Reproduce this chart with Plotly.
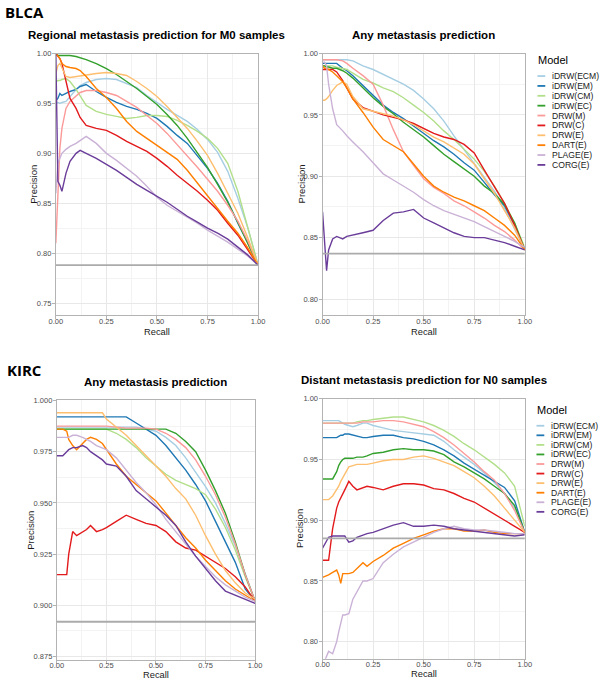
import plotly.graph_objects as go

# ---------------- data ----------------
MODELS = ["iDRW(ECM)", "iDRW(EM)", "iDRW(CM)", "iDRW(EC)", "DRW(M)", "DRW(C)",
          "DRW(E)", "DART(E)", "PLAGE(E)", "CORG(E)"]
COLORS = ["#A6CEE3", "#1F78B4", "#B2DF8A", "#33A02C", "#FB9A99", "#E31A1C",
          "#FDBF6F", "#FF7F00", "#CAB2D6", "#6A3D9A"]

PANEL_TITLES = ["Regional metastasis prediction for M0 samples", "Any metastasis prediction",
                "Any metastasis prediction", "Distant metastasis prediction for N0 samples"]
BASELINES = [0.788, 0.837, 0.892, 0.885]
X_TICKS = [0.0, 0.25, 0.5, 0.75, 1.0]

# BLCA - regional metastasis (M0)
rec_blca_m0 = [0, .01, .02, .03, .05, .07, .1, .12, .15, .2, .25, .3, .35, .4, .45, .5, .55, .6, .65, .7, .75, .8, .85, .9, .95, 1.0]
blca_m0_idrw_ecm = [0.950, 0.951, 0.950, 0.951, 0.952, 0.957, 0.964, 0.968, 0.971, 0.974, 0.975, 0.974, 0.970, 0.966, 0.958, 0.951, 0.944, 0.938, 0.932, 0.924, 0.914, 0.901, 0.882, 0.855, 0.825, 0.788]
blca_m0_idrw_em = [0.953, 0.955, 0.960, 0.958, 0.960, 0.962, 0.964, 0.967, 0.969, 0.962, 0.956, 0.951, 0.947, 0.944, 0.940, 0.935, 0.927, 0.918, 0.910, 0.898, 0.885, 0.870, 0.852, 0.830, 0.810, 0.788]
blca_m0_idrw_cm = [0.972, 0.973, 0.973, 0.974, 0.975, 0.972, 0.964, 0.957, 0.948, 0.942, 0.939, 0.937, 0.935, 0.936, 0.938, 0.938, 0.937, 0.933, 0.928, 0.922, 0.915, 0.905, 0.890, 0.862, 0.825, 0.788]
blca_m0_idrw_ec = [1.000, 0.998, 0.998, 0.998, 0.998, 0.998, 0.997, 0.996, 0.994, 0.990, 0.985, 0.979, 0.972, 0.965, 0.957, 0.949, 0.939, 0.928, 0.915, 0.901, 0.886, 0.869, 0.851, 0.831, 0.810, 0.788]
blca_m0_drw_m = [0.810, 0.860, 0.905, 0.925, 0.945, 0.952, 0.958, 0.961, 0.963, 0.963, 0.961, 0.958, 0.952, 0.946, 0.938, 0.930, 0.920, 0.909, 0.897, 0.886, 0.874, 0.862, 0.848, 0.832, 0.812, 0.788]
blca_m0_drw_c = [1.000, 0.998, 0.995, 0.990, 0.972, 0.955, 0.945, 0.936, 0.928, 0.925, 0.923, 0.918, 0.912, 0.907, 0.902, 0.895, 0.887, 0.878, 0.870, 0.862, 0.853, 0.843, 0.830, 0.818, 0.803, 0.788]
blca_m0_drw_e = [0.980, 0.988, 0.990, 0.986, 0.977, 0.976, 0.977, 0.978, 0.979, 0.980, 0.981, 0.980, 0.978, 0.972, 0.965, 0.957, 0.947, 0.936, 0.925, 0.912, 0.898, 0.880, 0.860, 0.840, 0.815, 0.788]
blca_m0_dart_e = [1.000, 0.998, 0.995, 0.990, 0.987, 0.986, 0.985, 0.983, 0.977, 0.965, 0.956, 0.945, 0.932, 0.922, 0.915, 0.908, 0.901, 0.894, 0.883, 0.870, 0.857, 0.845, 0.832, 0.820, 0.805, 0.788]
blca_m0_plage_e = [0.860, 0.890, 0.895, 0.900, 0.904, 0.907, 0.910, 0.913, 0.917, 0.910, 0.900, 0.893, 0.885, 0.877, 0.867, 0.856, 0.848, 0.842, 0.836, 0.830, 0.823, 0.817, 0.811, 0.804, 0.797, 0.788]
blca_m0_corg_e = [1.000, 0.872, 0.868, 0.862, 0.880, 0.892, 0.900, 0.903, 0.900, 0.895, 0.889, 0.883, 0.876, 0.869, 0.863, 0.857, 0.851, 0.844, 0.837, 0.831, 0.825, 0.820, 0.814, 0.806, 0.798, 0.788]

# BLCA - any metastasis
rec_blca_any = [0, .01, .02, .03, .05, .07, .1, .12, .15, .2, .25, .3, .35, .4, .45, .5, .55, .6, .65, .7, .75, .8, .85, .9, .95, 1.0]
blca_any_idrw_ecm = [0.995, 0.995, 0.995, 0.995, 0.995, 0.995, 0.995, 0.995, 0.994, 0.990, 0.987, 0.983, 0.979, 0.975, 0.970, 0.963, 0.955, 0.945, 0.933, 0.922, 0.911, 0.900, 0.888, 0.874, 0.857, 0.840]
blca_any_idrw_em = [0.992, 0.992, 0.992, 0.992, 0.992, 0.992, 0.988, 0.986, 0.982, 0.974, 0.966, 0.958, 0.952, 0.947, 0.941, 0.935, 0.929, 0.924, 0.918, 0.911, 0.905, 0.895, 0.885, 0.876, 0.860, 0.840]
blca_any_idrw_cm = [0.990, 0.990, 0.990, 0.990, 0.990, 0.989, 0.988, 0.987, 0.984, 0.979, 0.976, 0.972, 0.969, 0.964, 0.958, 0.952, 0.945, 0.937, 0.930, 0.922, 0.914, 0.904, 0.892, 0.878, 0.862, 0.842]
blca_any_idrw_ec = [0.990, 0.990, 0.989, 0.989, 0.988, 0.988, 0.986, 0.984, 0.980, 0.972, 0.964, 0.957, 0.951, 0.944, 0.938, 0.932, 0.925, 0.918, 0.912, 0.906, 0.900, 0.892, 0.886, 0.877, 0.862, 0.840]
blca_any_drw_m = [0.995, 0.995, 0.995, 0.995, 0.995, 0.995, 0.994, 0.992, 0.988, 0.982, 0.975, 0.958, 0.938, 0.920, 0.909, 0.898, 0.891, 0.886, 0.880, 0.876, 0.871, 0.866, 0.860, 0.855, 0.848, 0.840]
blca_any_drw_c = [0.987, 0.987, 0.987, 0.987, 0.987, 0.985, 0.978, 0.972, 0.963, 0.956, 0.953, 0.950, 0.948, 0.946, 0.943, 0.939, 0.935, 0.932, 0.930, 0.926, 0.919, 0.905, 0.892, 0.878, 0.860, 0.840]
blca_any_drw_e = [0.962, 0.962, 0.963, 0.965, 0.970, 0.974, 0.977, 0.975, 0.965, 0.955, 0.953, 0.951, 0.949, 0.946, 0.942, 0.937, 0.932, 0.928, 0.923, 0.918, 0.910, 0.898, 0.886, 0.872, 0.858, 0.840]
blca_any_dart_e = [0.990, 0.988, 0.988, 0.987, 0.985, 0.982, 0.977, 0.972, 0.963, 0.952, 0.940, 0.930, 0.925, 0.920, 0.910, 0.900, 0.892, 0.887, 0.883, 0.880, 0.876, 0.872, 0.866, 0.860, 0.852, 0.840]
blca_any_plage_e = [0.993, 0.993, 0.990, 0.975, 0.955, 0.942, 0.937, 0.933, 0.928, 0.920, 0.911, 0.902, 0.897, 0.892, 0.887, 0.881, 0.876, 0.872, 0.869, 0.866, 0.863, 0.859, 0.855, 0.851, 0.847, 0.842]
blca_any_corg_e = [0.871, 0.845, 0.823, 0.840, 0.849, 0.851, 0.849, 0.851, 0.852, 0.854, 0.856, 0.864, 0.870, 0.871, 0.873, 0.866, 0.862, 0.858, 0.854, 0.851, 0.850, 0.850, 0.848, 0.846, 0.843, 0.840]

# KIRC - any metastasis
rec_kirc_any = [0, .03, .05, .06, .08, .1, .13, .15, .17, .2, .23, .25, .3, .35, .4, .45, .5, .55, .6, .65, .7, .75, .8, .85, .9, .95, 1.0]
kirc_any_idrw_ecm = [0.987] * 15 + [0.986, 0.985, 0.982, 0.978, 0.972, 0.965, 0.958, 0.950, 0.940, 0.929, 0.915, 0.902]
kirc_any_idrw_em = [0.992] * 14 + [0.989, 0.986, 0.983, 0.978, 0.972, 0.966, 0.959, 0.951, 0.941, 0.931, 0.921, 0.908, 0.902]
kirc_any_idrw_cm = [0.986] * 12 + [0.984, 0.981, 0.977, 0.972, 0.968, 0.964, 0.961, 0.959, 0.957, 0.954, 0.947, 0.938, 0.927, 0.914, 0.902]
kirc_any_idrw_ec = [0.986] * 18 + [0.984, 0.980, 0.975, 0.966, 0.956, 0.945, 0.931, 0.915, 0.902]
kirc_any_drw_m = [0.9875] * 12 + [0.987, 0.9865, 0.9865, 0.9865, 0.986, 0.984, 0.981, 0.977, 0.971, 0.963, 0.954, 0.943, 0.930, 0.915, 0.902]
kirc_any_drw_c = [0.915, 0.915, 0.915, 0.925, 0.936, 0.934, 0.936, 0.937, 0.939, 0.936, 0.937, 0.938, 0.941, 0.944, 0.942, 0.940, 0.939, 0.936, 0.931, 0.928, 0.927, 0.924, 0.921, 0.918, 0.914, 0.909, 0.902]
kirc_any_drw_e = [0.994] * 11 + [0.991, 0.987, 0.983, 0.978, 0.973, 0.968, 0.963, 0.957, 0.952, 0.944, 0.934, 0.925, 0.917, 0.911, 0.906, 0.903]
kirc_any_dart_e = [0.986, 0.986, 0.985, 0.981, 0.978, 0.976, 0.979, 0.981, 0.982, 0.981, 0.979, 0.976, 0.969, 0.963, 0.959, 0.955, 0.951, 0.945, 0.939, 0.933, 0.928, 0.922, 0.917, 0.912, 0.908, 0.905, 0.902]
kirc_any_plage_e = [0.982, 0.982, 0.982, 0.982, 0.983, 0.983, 0.982, 0.981, 0.980, 0.978, 0.977, 0.976, 0.972, 0.966, 0.960, 0.955, 0.949, 0.942, 0.936, 0.930, 0.924, 0.919, 0.914, 0.910, 0.907, 0.904, 0.902]
kirc_any_corg_e = [0.973, 0.973, 0.975, 0.976, 0.977, 0.977, 0.978, 0.977, 0.975, 0.973, 0.971, 0.969, 0.968, 0.963, 0.956, 0.952, 0.948, 0.944, 0.939, 0.931, 0.924, 0.918, 0.912, 0.907, 0.905, 0.903, 0.901]

# KIRC - distant metastasis (N0)
rec_kirc_n0 = [0, .03, .05, .07, .08, .09, .1, .11, .13, .15, .17, .2, .22, .25, .3, .35, .4, .45, .5, .55, .6, .65, .7, .75, .8, .85, .9, .95, 1.0]
kirc_n0_idrw_ecm = [0.982, 0.982, 0.982, 0.982, 0.982, 0.981, 0.980, 0.979, 0.978, 0.977, 0.978, 0.980, 0.980, 0.978, 0.976, 0.974, 0.973, 0.972, 0.971, 0.970, 0.965, 0.958, 0.952, 0.946, 0.939, 0.931, 0.922, 0.910, 0.890]
kirc_n0_idrw_em = [0.968, 0.968, 0.968, 0.968, 0.969, 0.970, 0.970, 0.971, 0.971, 0.970, 0.969, 0.968, 0.968, 0.969, 0.970, 0.970, 0.968, 0.967, 0.965, 0.962, 0.958, 0.953, 0.947, 0.942, 0.937, 0.932, 0.927, 0.916, 0.890]
kirc_n0_idrw_cm = [0.980, 0.980, 0.980, 0.980, 0.980, 0.980, 0.980, 0.980, 0.980, 0.980, 0.981, 0.982, 0.982, 0.983, 0.984, 0.985, 0.985, 0.983, 0.981, 0.978, 0.974, 0.969, 0.963, 0.958, 0.952, 0.946, 0.939, 0.928, 0.895]
kirc_n0_idrw_ec = [0.934, 0.934, 0.934, 0.940, 0.945, 0.948, 0.950, 0.951, 0.951, 0.951, 0.952, 0.952, 0.953, 0.955, 0.956, 0.958, 0.959, 0.958, 0.958, 0.957, 0.954, 0.948, 0.944, 0.939, 0.934, 0.928, 0.922, 0.912, 0.890]
kirc_n0_drw_m = [0.980] * 11 + [0.981, 0.981, 0.981, 0.982, 0.982, 0.981, 0.979, 0.977, 0.973, 0.968, 0.962, 0.955, 0.948, 0.940, 0.933, 0.922, 0.908, 0.890]
kirc_n0_drw_c = [0.867, 0.867, 0.893, 0.910, 0.915, 0.918, 0.922, 0.925, 0.932, 0.928, 0.925, 0.927, 0.928, 0.927, 0.925, 0.928, 0.930, 0.930, 0.929, 0.926, 0.925, 0.922, 0.918, 0.915, 0.910, 0.905, 0.900, 0.895, 0.890]
kirc_n0_drw_e = [0.917, 0.917, 0.920, 0.925, 0.928, 0.932, 0.935, 0.938, 0.944, 0.945, 0.946, 0.946, 0.946, 0.947, 0.949, 0.950, 0.950, 0.952, 0.953, 0.951, 0.948, 0.945, 0.940, 0.935, 0.928, 0.920, 0.910, 0.900, 0.890]
kirc_n0_dart_e = [0.853, 0.855, 0.857, 0.859, 0.855, 0.848, 0.856, 0.856, 0.856, 0.857, 0.860, 0.865, 0.862, 0.866, 0.871, 0.877, 0.881, 0.885, 0.888, 0.891, 0.893, 0.893, 0.891, 0.891, 0.892, 0.890, 0.889, 0.889, 0.889]
kirc_n0_plage_e = [0.780, 0.792, 0.790, 0.800, 0.808, 0.815, 0.822, 0.822, 0.823, 0.835, 0.841, 0.850, 0.850, 0.852, 0.865, 0.872, 0.878, 0.882, 0.886, 0.890, 0.893, 0.895, 0.893, 0.892, 0.892, 0.891, 0.890, 0.889, 0.889]
kirc_n0_corg_e = [0.877, 0.886, 0.887, 0.887, 0.887, 0.887, 0.887, 0.887, 0.882, 0.883, 0.886, 0.888, 0.889, 0.890, 0.893, 0.896, 0.898, 0.895, 0.895, 0.896, 0.895, 0.893, 0.892, 0.891, 0.890, 0.889, 0.888, 0.887, 0.888]

PANEL_RECALL = [rec_blca_m0, rec_blca_any, rec_kirc_any, rec_kirc_n0]
PANEL_SERIES = [
    [blca_m0_idrw_ecm, blca_m0_idrw_em, blca_m0_idrw_cm, blca_m0_idrw_ec, blca_m0_drw_m,
     blca_m0_drw_c, blca_m0_drw_e, blca_m0_dart_e, blca_m0_plage_e, blca_m0_corg_e],
    [blca_any_idrw_ecm, blca_any_idrw_em, blca_any_idrw_cm, blca_any_idrw_ec, blca_any_drw_m,
     blca_any_drw_c, blca_any_drw_e, blca_any_dart_e, blca_any_plage_e, blca_any_corg_e],
    [kirc_any_idrw_ecm, kirc_any_idrw_em, kirc_any_idrw_cm, kirc_any_idrw_ec, kirc_any_drw_m,
     kirc_any_drw_c, kirc_any_drw_e, kirc_any_dart_e, kirc_any_plage_e, kirc_any_corg_e],
    [kirc_n0_idrw_ecm, kirc_n0_idrw_em, kirc_n0_idrw_cm, kirc_n0_idrw_ec, kirc_n0_drw_m,
     kirc_n0_drw_c, kirc_n0_drw_e, kirc_n0_dart_e, kirc_n0_plage_e, kirc_n0_corg_e],
]

# ---------------- layout / style ----------------
W, H = 606, 681
FONT = "Liberation Sans, Arial, sans-serif"


def fx(px):
    return px / W


def fy(py):
    return 1 - py / H


# plot-area pixel boxes (left, right, top, bottom)
BOXES = [(50, 257, 50, 314), (323, 530, 50, 314), (51, 254, 400, 661.5), (323, 530, 398.3, 660.5)]
YRANGES = [(0.7378, 1.0), (0.7868, 1.0), (0.8735, 1.0), (0.786, 1.0)]
YDTICK = [0.05, 0.05, 0.025, 0.05]
YFMT = [".2f", ".2f", ".3f", ".2f"]
TITLE_POS = [(153.5, 31), (426.5, 31.5), (152.5, 381.5), (426.5, 379)]
RECALL_POS = [(153.5, 330.5), (426.5, 330.5), (152.5, 676.5), (426.5, 676)]
XSTANDOFF = [-4, -4, -5, -5]
PREC_POS = [(27, 182), (301, 182), (24, 531), (300, 529.5)]

fig = go.Figure()
annotations = []
shapes = []

for i in range(4):
    ax = "" if i == 0 else str(i + 1)
    xref, yref = "x" + ax, "y" + ax
    rec = PANEL_RECALL[i]
    for name, color, vals in zip(MODELS, COLORS, PANEL_SERIES[i]):
        fig.add_trace(go.Scatter(x=rec, y=vals, mode="lines", name=name, showlegend=False,
                                 line=dict(color=color, width=1.4), xaxis=xref, yaxis=yref,
                                 hoverinfo="skip"))
    l, r, t, b = BOXES[i]
    axis_common = dict(showline=True, mirror=True, linecolor="#B3B3B3", linewidth=1,
                       ticks="outside", ticklen=3, tickcolor="#B3B3B3", tickwidth=1,
                       tickfont=dict(family=FONT, size=7.5, color="#4D4D4D"),
                       gridcolor="#E8E8E8", gridwidth=1, zeroline=False)
    fig.layout["xaxis" + ax] = dict(
        axis_common, domain=[fx(l), fx(r)], anchor=yref, range=[0, 1.0],
        tickvals=X_TICKS, ticktext=[f"{v:.2f}" for v in X_TICKS], ticklabelstandoff=XSTANDOFF[i],
        minor=dict(dtick=0.125, tick0=0, showgrid=True, gridcolor="#F3F3F3", gridwidth=1))
    fig.layout["yaxis" + ax] = dict(
        axis_common, domain=[fy(b), fy(t)], anchor=xref, range=list(YRANGES[i]),
        dtick=YDTICK[i], tick0=0, tickformat=YFMT[i], ticklabelstandoff=-1,
        minor=dict(dtick=YDTICK[i] / 2, tick0=0, showgrid=True, gridcolor="#F3F3F3", gridwidth=1))
    # no-skill baseline
    shapes.append(dict(type="line", xref=xref + " domain", yref=yref, x0=0, x1=1,
                       y0=BASELINES[i], y1=BASELINES[i], line=dict(color="#ABABAB", width=1.8)))
    # titles
    tx, ty = TITLE_POS[i]
    annotations.append(dict(text="<b>" + PANEL_TITLES[i] + "</b>", x=fx(tx), y=fy(ty), xref="paper",
                            yref="paper", showarrow=False, xanchor="center", yanchor="middle",
                            font=dict(family=FONT, size=11.5, color="#000000")))
    rx, ry = RECALL_POS[i]
    annotations.append(dict(text="Recall", x=fx(rx), y=fy(ry), xref="paper", yref="paper",
                            showarrow=False, xanchor="center", yanchor="middle",
                            font=dict(family=FONT, size=9.3, color="#1A1A1A")))
    px_, py_ = PREC_POS[i]
    annotations.append(dict(text="Precision", x=fx(px_), y=fy(py_), xref="paper", yref="paper",
                            showarrow=False, xanchor="center", yanchor="middle", textangle=-90,
                            font=dict(family=FONT, size=9.5, color="#1A1A1A")))

# cancer labels
annotations.append(dict(text="<b>BLCA</b>", x=0, y=fy(8.5), xref="paper", yref="paper", showarrow=False,
                        xanchor="left", yanchor="middle", xshift=-4,
                        font=dict(family="Open Sans", size=15, color="#000")))
annotations.append(dict(text="<b>KIRC</b>", x=0, y=fy(369.5), xref="paper", yref="paper", showarrow=False,
                        xanchor="left", yanchor="middle", xshift=-2,
                        font=dict(family="Open Sans", size=15, color="#000")))

# legends (drawn manually, ggplot-style short keys)
LEGENDS = [dict(title_xy=(541, 57), y0=72.7, step=9.96, key=(543, 551), text_x=556),
           dict(title_xy=(540.5, 410), y0=425.5, step=9.65, key=(542, 550), text_x=555)]
for lg in LEGENDS:
    annotations.append(dict(text="Model", x=fx(lg["title_xy"][0]), y=fy(lg["title_xy"][1]), xref="paper",
                            yref="paper", showarrow=False, xanchor="left", yanchor="middle",
                            font=dict(family=FONT, size=11, color="#000")))
    for k, (name, color) in enumerate(zip(MODELS, COLORS)):
        yy = lg["y0"] + k * lg["step"]
        shapes.append(dict(type="line", xref="paper", yref="paper", x0=fx(lg["key"][0]), x1=fx(lg["key"][1]),
                           y0=fy(yy), y1=fy(yy), line=dict(color=color, width=1.8)))
        annotations.append(dict(text=name, x=fx(lg["text_x"]), y=fy(yy), xref="paper", yref="paper",
                                showarrow=False, xanchor="left", yanchor="middle",
                                font=dict(family=FONT, size=8.6, color="#1A1A1A")))

fig.update_layout(width=W, height=H, margin=dict(l=0, r=0, t=0, b=0),
                  paper_bgcolor="white", plot_bgcolor="white", showlegend=False,
                  annotations=annotations, shapes=shapes, hovermode=False,
                  font=dict(family=FONT))

fig.write_html("out.html", config={"displayModeBar": False},
               post_script="document.body.style.margin='0px';")
